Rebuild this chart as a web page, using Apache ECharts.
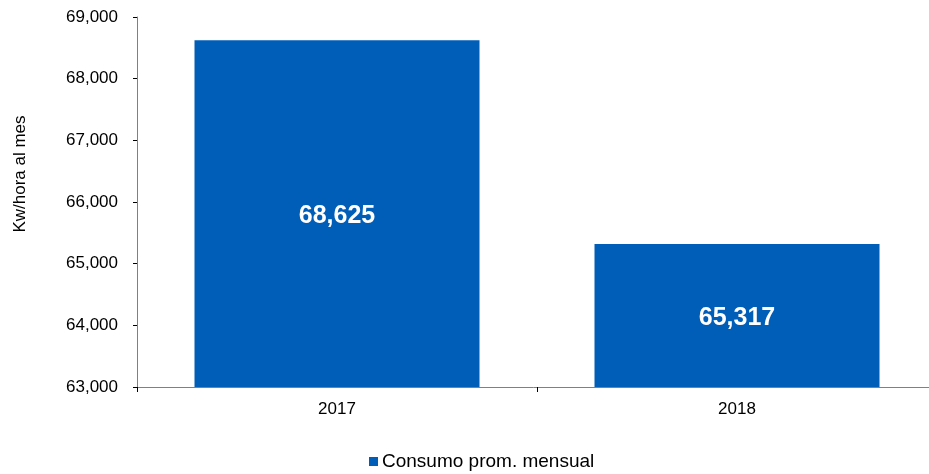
<!DOCTYPE html>
<html>
<head>
<meta charset="utf-8">
<script src="https://cdn.jsdelivr.net/npm/echarts@6/dist/echarts.min.js"></script>
<style>
html,body{margin:0;padding:0;background:#fff;}
#c{width:929px;height:474px;}
</style>
</head>
<body>
<div id="c"></div>
<script>
const categories = ['2017', '2018'];
const consumo = [68625, 65317];
const seriesName = 'Consumo prom. mensual';
const yAxisTitle = 'Kw/hora al mes';
const yMin = 63000, yMax = 69000, yInterval = 1000;

const fmt = v => Number(v).toLocaleString('en-US');
const font = 'Liberation Sans, Arial, Helvetica, sans-serif';

const chart = echarts.init(document.getElementById('c'), null, {renderer: 'canvas'});
chart.setOption({
  animation: false,
  textStyle: {fontFamily: font},
  grid: {left: 137, width: 800, top: 17, bottom: 87, containLabel: false, outerBoundsMode: 'none'},
  legend: {
    data: [seriesName],
    left: 369, top: 452, padding: 0,
    itemWidth: 9, itemHeight: 9, itemGap: 10,
    icon: 'rect',
    textStyle: {fontSize: 19, color: '#000', fontFamily: font, padding: [0,0,0,-1]}
  },
  xAxis: {
    type: 'category',
    data: categories,
    axisLine: {lineStyle: {color: '#808080', width: 1}},
    axisTick: {show: true, length: 5, lineStyle: {color: '#000'}},
    axisLabel: {color: '#000', fontSize: 17, margin: 14, fontFamily: font},
    splitLine: {show: false}
  },
  yAxis: {
    type: 'value',
    min: yMin, max: yMax, interval: yInterval,
    name: yAxisTitle,
    nameLocation: 'middle',
    nameRotate: 90,
    nameGap: 108,
    nameTextStyle: {color: '#000', fontSize: 17, fontFamily: font, padding: [0, 0, 0, 56]},
    axisLine: {show: true, lineStyle: {color: '#808080', width: 1}},
    axisTick: {show: true, length: 4, lineStyle: {color: '#000'}},
    axisLabel: {color: '#000', fontSize: 17, margin: 19, fontFamily: font, formatter: fmt},
    splitLine: {show: false}
  },
  series: [{
    name: seriesName,
    type: 'bar',
    data: consumo,
    barWidth: '71.25%',
    itemStyle: {color: '#005EB8'},
    label: {
      show: true, position: 'inside', offset: [0, 3],
      color: '#fff', fontSize: 25, fontWeight: 'bold', fontFamily: font,
      formatter: p => fmt(p.value)
    }
  }]
});
</script>
</body>
</html>
